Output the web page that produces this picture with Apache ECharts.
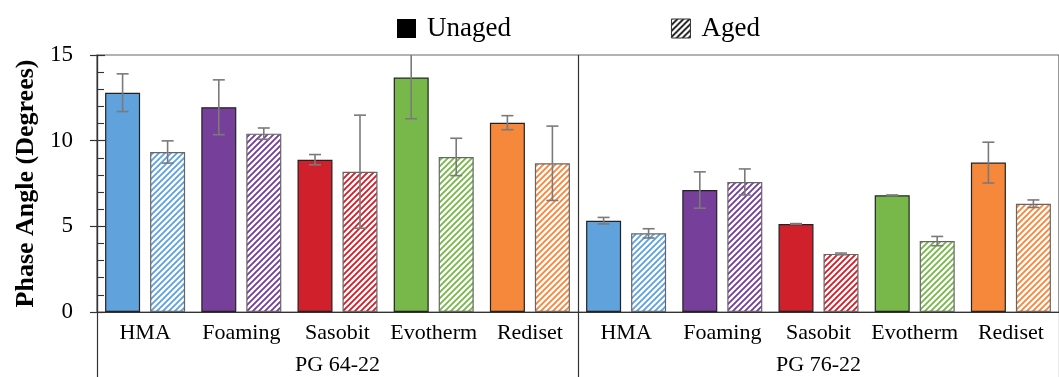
<!DOCTYPE html>
<html>
<head>
<meta charset="utf-8">
<script src="https://cdn.jsdelivr.net/npm/echarts@6/dist/echarts.min.js"></script>
<style>html,body{margin:0;padding:0;background:#fff;}#c{width:1059px;height:377px;}</style>
</head>
<body>
<div id="c"></div>
<script>
const categories = ['HMA','Foaming','Sasobit','Evotherm','Rediset','HMA','Foaming','Sasobit','Evotherm','Rediset'];
const groups = ['PG 64-22','PG 76-22'];
const unaged = [12.8, 11.95, 8.89, 13.68, 11.05, 5.33, 7.12, 5.14, 6.81, 8.72];
const unagedErr = [1.1, 1.6, 0.3, 2.4, 0.41, 0.19, 1.06, 0.02, 0.02, 1.19];
const aged = [9.34, 10.41, 8.19, 9.05, 8.68, 4.59, 7.59, 3.39, 4.14, 6.32];
const agedErr = [0.65, 0.33, 3.3, 1.09, 2.17, 0.27, 0.76, 0.05, 0.27, 0.22];
const colors = ['#5fa2dc','#763f99','#d0202b','#78b84a','#f5883a','#5fa2dc','#763f99','#d0202b','#78b84a','#f5883a'];
const yMin = 0, yMax = 15, yInterval = 5;

const FONT = '"Liberation Serif", "Times New Roman", serif';
const BAR_W = 35, BAR_GAP = 10;

function hatch(color, lw) {
  const s = 6;
  const cv = document.createElement('canvas');
  cv.width = s; cv.height = s;
  const ctx = cv.getContext('2d');
  ctx.fillStyle = '#fff';
  ctx.fillRect(0, 0, s, s);
  ctx.strokeStyle = color;
  ctx.lineWidth = lw || 1.9;
  ctx.beginPath();
  ctx.moveTo(0, s); ctx.lineTo(s, 0);
  ctx.moveTo(-s/2, s/2); ctx.lineTo(s/2, -s/2);
  ctx.moveTo(s/2, s*1.5); ctx.lineTo(s*1.5, s/2);
  ctx.stroke();
  return { image: cv, repeat: 'repeat' };
}

const unagedData = unaged.map((v, i) => ({ value: v, itemStyle: { color: colors[i] } }));
const agedData = aged.map((v, i) => ({ value: v, itemStyle: { color: hatch(colors[i]) } }));

function errData(vals, errs) {
  return vals.map((v, i) => [i, v - errs[i], v + errs[i]]);
}

function errRender(side) {
  return function (params, api) {
    const off = side * (BAR_W + BAR_GAP) / 2;
    const lo = api.coord([api.value(0), api.value(1)]);
    const hi = api.coord([api.value(0), api.value(2)]);
    const x = lo[0] + off;
    const cap = 6;
    const style = { stroke: '#7a7a7a', lineWidth: 1.6 };
    return {
      type: 'group',
      children: [
        { type: 'line', shape: { x1: x, y1: hi[1], x2: x, y2: lo[1] }, style },
        { type: 'line', shape: { x1: x - cap, y1: hi[1], x2: x + cap, y2: hi[1] }, style },
        { type: 'line', shape: { x1: x - cap, y1: lo[1], x2: x + cap, y2: lo[1] }, style }
      ]
    };
  };
}

const chart = echarts.init(document.getElementById('c'), null, { renderer: 'canvas' });
chart.setOption({
  animation: false,
  backgroundColor: '#fff',
  textStyle: { fontFamily: FONT, color: '#000' },
  legend: {
    left: 392, top: 10,
    itemWidth: 19, itemHeight: 19, itemGap: 160,
    selectedMode: false,
    textStyle: { fontFamily: FONT, fontSize: 27, color: '#000', padding: [0, 0, 0, 6] },
    data: [
      { name: 'Unaged', icon: 'rect', itemStyle: { color: '#000', borderWidth: 0 } },
      { name: 'Aged', icon: 'rect', itemStyle: { color: hatch('#000', 1.6), borderColor: '#333', borderWidth: 1 } }
    ]
  },
  grid: { left: 97, right: -4, top: 55, bottom: 65, show: true, borderColor: '#666', borderWidth: 1.2 },
  xAxis: [
    {
      type: 'category', data: categories, position: 'bottom',
      axisLine: { show: true, lineStyle: { color: '#333', width: 1.2 } },
      axisTick: { show: false },
      axisLabel: { interval: 0, margin: 10, fontFamily: FONT, fontSize: 22, color: '#000' }
    },
    {
      type: 'category', data: groups, position: 'bottom', offset: 0,
      axisLine: { show: false },
      axisTick: { show: true, length: 65, interval: 0, lineStyle: { color: '#333', width: 1.2 } },
      axisLabel: { interval: 0, margin: 42, fontFamily: FONT, fontSize: 22, color: '#000' },
      splitLine: { show: true, interval: 0, lineStyle: { color: '#333', width: 1.2 } }
    }
  ],
  yAxis: [
    {
      type: 'value', min: yMin, max: yMax, interval: yInterval,
      name: 'Phase Angle (Degrees)', nameLocation: 'middle', nameGap: 56,
      nameTextStyle: { fontFamily: FONT, fontSize: 26, fontWeight: 'bold', color: '#000' },
      axisLine: { show: true, lineStyle: { color: '#333', width: 1.2 } },
      axisTick: { show: true, length: 7, lineStyle: { color: '#333', width: 1.2 } },
      splitLine: { show: false },
      axisLabel: { margin: 24, fontFamily: FONT, fontSize: 23, color: '#000' }
    },
    {
      type: 'value', min: yMin, max: yMax, interval: yInterval, position: 'left', offset: 0,
      axisLine: { show: false },
      axisTick: { show: true, inside: true, length: 8, lineStyle: { color: '#333', width: 1.2 } },
      minorTick: { show: true, splitNumber: 5, length: 7, lineStyle: { color: '#333', width: 1.1 } },
      splitLine: { show: false },
      axisLabel: { show: false }
    }
  ],
  series: [
    {
      name: 'Unaged', type: 'bar', data: unagedData, barWidth: BAR_W, barGap: (BAR_GAP / BAR_W * 100) + '%',
      itemStyle: { color: '#000', borderColor: '#222', borderWidth: 1.2 }
    },
    {
      name: 'Aged', type: 'bar', data: agedData, barWidth: BAR_W, barGap: (BAR_GAP / BAR_W * 100) + '%',
      itemStyle: { color: '#000', borderColor: '#666', borderWidth: 1.2 }
    },
    { type: 'custom', data: errData(unaged, unagedErr), renderItem: errRender(-1), clip: true, z: 5 },
    { type: 'custom', data: errData(aged, agedErr), renderItem: errRender(1), clip: true, z: 5 }
  ]
});
</script>
</body>
</html>
